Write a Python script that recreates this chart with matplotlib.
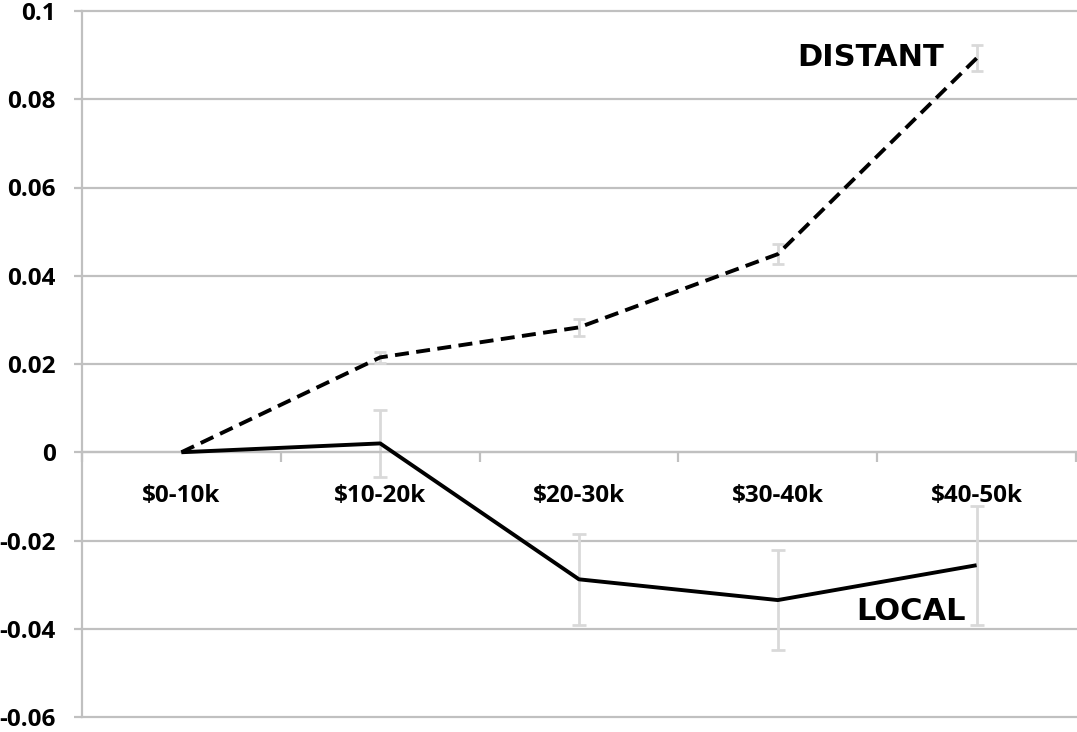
import matplotlib
matplotlib.use("Agg")
import matplotlib.pyplot as plt
import numpy as np

categories = ["$0-10k", "$10-20k", "$20-30k", "$30-40k", "$40-50k"]
distant = [0.0, 0.0215, 0.0283, 0.0449, 0.0893]
distant_err = [0.0, 0.0012, 0.0019, 0.0023, 0.0029]
local = [0.0, 0.0020, -0.0288, -0.0335, -0.0256]
local_err = [0.0, 0.0076, 0.0103, 0.0114, 0.0135]
yticks = [-0.06, -0.04, -0.02, 0, 0.02, 0.04, 0.06, 0.08, 0.1]
ytick_labels = ["-0.06", "-0.04", "-0.02", "0", "0.02", "0.04", "0.06", "0.08", "0.1"]

W, H = 1077, 732
fig = plt.figure(figsize=(W / 100, H / 100), dpi=100)
ax = fig.add_axes([82 / W, 1 - 717 / H, 994 / W, 706 / H])

grid_c = "#c0c0c0"
err_c = "#d9d9d9"
x = np.arange(len(categories))
tick_font = dict(family="Open Sans", weight="bold")

ax.set_xlim(-0.5, len(categories) - 0.5)
ax.set_ylim(-0.06, 0.1)

for yv in yticks:
    ax.axhline(yv, color=grid_c, lw=1.6, zorder=1, clip_on=False)

ax.errorbar(x[1:], local[1:], yerr=local_err[1:], fmt="none", ecolor=err_c,
            elinewidth=2, capsize=5, capthick=2, zorder=2)
ax.errorbar(x[1:], distant[1:], yerr=distant_err[1:], fmt="none", ecolor=err_c,
            elinewidth=2, capsize=4, capthick=2, zorder=2)

ax.plot(x, local, color="black", lw=2.8, zorder=3, solid_capstyle="butt")
ax.plot(x, distant, color="black", lw=2.8, ls=(0, (3.6, 1.9)), zorder=3)

for s in ["top", "right"]:
    ax.spines[s].set_visible(False)
ax.spines["left"].set_color(grid_c)
ax.spines["left"].set_linewidth(1.6)
ax.spines["bottom"].set_position(("data", 0))
ax.spines["bottom"].set_color(grid_c)
ax.spines["bottom"].set_linewidth(1.6)

ax.set_yticks(yticks)
ax.set_yticklabels(ytick_labels, fontsize=17.5, **tick_font)
ax.tick_params(axis="y", length=6, width=1.6, color=grid_c, pad=13)

ax.set_xticks(x)
ax.set_xticklabels(categories, fontsize=17.5, **tick_font)
ax.tick_params(axis="x", which="major", length=0, pad=23)
ax.set_xticks(np.arange(-0.5, len(categories), 1.0), minor=True)
ax.tick_params(axis="x", which="minor", length=7, width=1.6, color=grid_c, direction="out")

ax.text(3.465, 0.0895, "DISTANT", fontfamily="DejaVu Sans", fontweight="bold",
        fontsize=22, ha="center", va="center")
ax.text(3.67, -0.0360, "LOCAL", fontfamily="DejaVu Sans", fontweight="bold",
        fontsize=22, ha="center", va="center")

fig.savefig("out.png", dpi=100)
